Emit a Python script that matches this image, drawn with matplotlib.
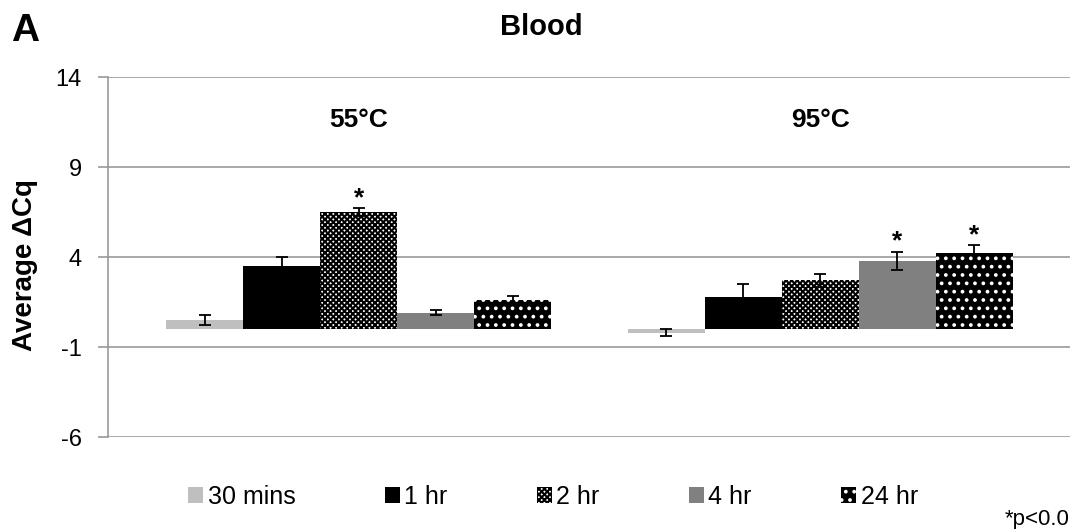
import numpy as np
import matplotlib.pyplot as plt

plt.rcParams['font.family'] = ['Liberation Sans', 'DejaVu Sans']
plt.rcParams['hatch.linewidth'] = 1.5
plt.rcParams['axes.unicode_minus'] = False

# data
temps = ['55°C', '95°C']
times = ['30 mins', '1 hr', '2 hr', '4 hr', '24 hr']
mean_55 = [0.5, 3.5, 6.5, 0.9, 1.6]
err_55 = [0.3, 0.5, 0.2, 0.14, 0.25]
mean_95 = [-0.2, 1.8, 2.7, 3.8, 4.2]
err_95 = [0.2, 0.68, 0.35, 0.5, 0.45]
sig_55 = [False, False, True, False, False]
sig_95 = [False, False, False, True, True]
yticks = [-6, -1, 4, 9, 14]

# bar styles per time point
styles = [
    dict(color='#bfbfbf'),
    dict(color='black'),
    dict(facecolor='white', edgecolor='black', hatch='xxxxxx', linewidth=0),
    dict(color='#808080'),
    dict(facecolor='black', edgecolor='white', hatch='..', linewidth=0),
]

fig = plt.figure(figsize=(10.72, 5.29), dpi=100)
ax = fig.add_axes([108/1072, 1-437/529, (1070-108)/1072, 360/529])

x = np.arange(len(temps))
w = 0.167
handles = []
for i, t in enumerate(times):
    xs = x + (i - 2) * w
    vals = [mean_55[i], mean_95[i]]
    errs = [err_55[i], err_95[i]]
    b = ax.bar(xs, vals, w, label=t, zorder=3, **styles[i])
    handles.append(b)
    ax.errorbar(xs, vals, yerr=errs, fmt='none', ecolor='black',
                elinewidth=1.3, capsize=4.5, capthick=1.3, zorder=4)
    for xx, v, e, s in zip(xs, vals, errs, [sig_55[i], sig_95[i]]):
        if s:
            ax.text(xx, v + e - 0.1, '*', ha='center', va='bottom',
                    fontsize=19, fontweight='bold', zorder=5)

for xx, t in zip(x, temps):
    ax.text(xx, 11.6, t, ha='center', va='center', fontsize=19, fontweight='bold')

ax.set_xlim(-0.544, 1.542)
ax.set_ylim(-6, 14)
ax.set_yticks(yticks)
ax.set_xticks([])
ax.yaxis.grid(True, color='#999999', linewidth=1.2, zorder=0)
ax.set_axisbelow(True)
for s in ['top', 'right', 'bottom']:
    ax.spines[s].set_visible(False)
ax.spines['left'].set_color('#999999')
ax.spines['left'].set_linewidth(1.2)
ax.tick_params(axis='y', length=7, width=1.2, color='#999999', labelsize=17, pad=12)

fig.text(25/1072, 1-265/529, 'Average ΔCq', rotation=90, ha='center', va='center',
         fontsize=20, fontweight='bold')
fig.text(541/1072, 1-27/529, 'Blood', ha='center', va='center', fontsize=21, fontweight='bold')
fig.text(25/1072, 1-31/529, 'A', ha='center', va='center', fontsize=28, fontweight='bold')
fig.text(1005/1072, 1-519/529, '*p<0.0', ha='left', va='center', fontsize=16)

fig.legend(handles, times, loc='center left', bbox_to_anchor=(188/1072, 1-497/529),
           ncol=5, frameon=False, fontsize=18, handlelength=0.6, handleheight=0.6,
           handletextpad=0.2, columnspacing=3.55, borderpad=0, borderaxespad=0)

fig.savefig('out.png', dpi=100)
